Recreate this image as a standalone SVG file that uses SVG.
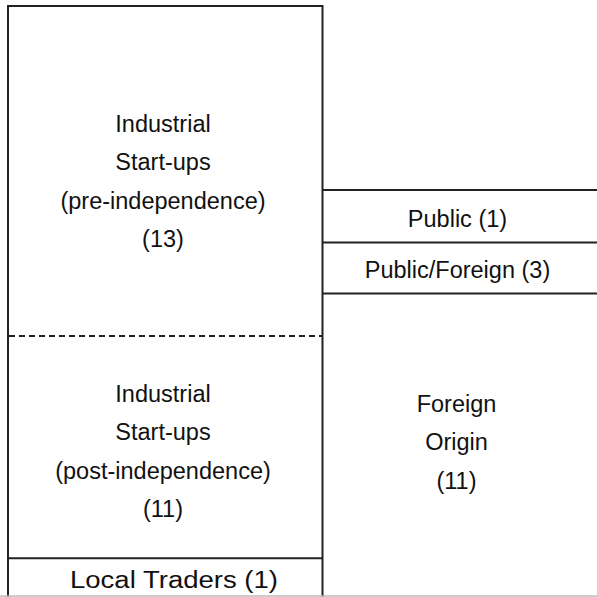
<svg xmlns="http://www.w3.org/2000/svg" width="597" height="597" viewBox="0 0 597 597">
<style>
.ln{stroke:#222;stroke-width:2;fill:none}
.dash{stroke:#222;stroke-width:2;stroke-dasharray:6 4;fill:none}
.t{font-family:"Liberation Sans",Arial,sans-serif;font-size:23.5px;fill:#111;text-anchor:middle}
</style>
<rect width="597" height="597" fill="#fff"/>
<g id="connectors">
<line class="ln" x1="8" y1="6" x2="322.5" y2="6"/>
<line class="ln" x1="8" y1="5" x2="8" y2="597"/>
<line class="ln" x1="322.5" y1="5" x2="322.5" y2="597"/>
<line class="ln" x1="322.5" y1="190" x2="597" y2="190"/>
<line class="ln" x1="322.5" y1="242.5" x2="597" y2="242.5"/>
<line class="ln" x1="322.5" y1="293.5" x2="597" y2="293.5"/>
<line class="dash" x1="9" y1="336" x2="322" y2="336"/>
<line class="ln" x1="8" y1="558.3" x2="322.5" y2="558.3"/>
<line x1="0" y1="596" x2="597" y2="596" stroke="#bbb" stroke-width="1.5"/>
</g>
<g id="pre">
<text class="t" x="163" y="131.5">Industrial</text>
<text class="t" x="163" y="170">Start-ups</text>
<text class="t" x="163" y="208.5">(pre-independence)</text>
<text class="t" x="163" y="246.5">(13)</text>
</g>
<g id="post">
<text class="t" x="163" y="401.5">Industrial</text>
<text class="t" x="163" y="440">Start-ups</text>
<text class="t" x="163" y="478.5">(post-independence)</text>
<text class="t" x="163" y="516.5">(11)</text>
</g>
<g id="local">
<text class="t" x="174" y="587.5" textLength="208" lengthAdjust="spacingAndGlyphs">Local Traders (1)</text>
</g>
<g id="public">
<text class="t" x="457.5" y="227">Public (1)</text>
</g>
<g id="publicforeign">
<text class="t" x="457.5" y="277.5">Public/Foreign (3)</text>
</g>
<g id="foreign">
<text class="t" x="456.5" y="411.5">Foreign</text>
<text class="t" x="456.5" y="450">Origin</text>
<text class="t" x="456.5" y="488.5">(11)</text>
</g>
</svg>
